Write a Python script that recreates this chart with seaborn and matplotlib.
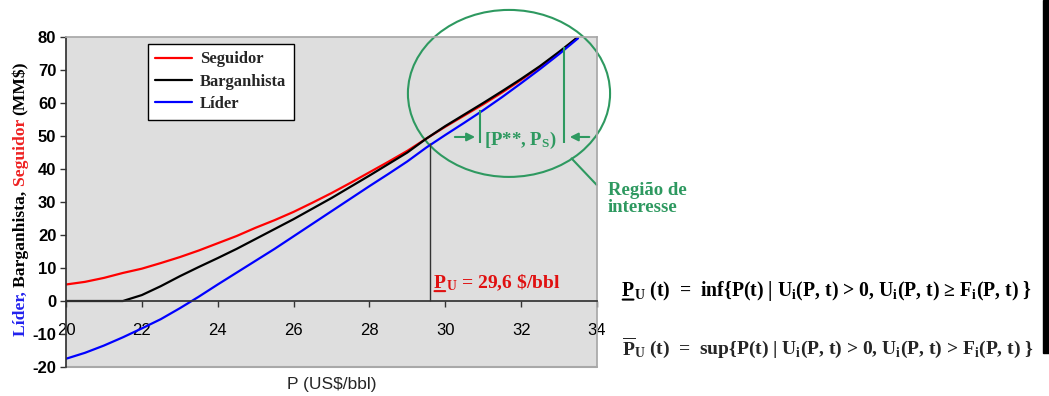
import numpy as np
import pandas as pd
import matplotlib
matplotlib.use("Agg")
import matplotlib.pyplot as plt
import seaborn as sns
from matplotlib.patches import Ellipse, Rectangle

# ==================================================
# DATA
# ==================================================
preco = [20, 20.5, 21, 21.5, 22, 22.5, 23, 23.5, 24, 24.5, 25, 25.5, 26, 26.5,
         27, 27.5, 28, 28.5, 29, 29.5, 30, 30.5, 31, 31.5, 32, 32.5, 33, 33.5]

seguidor = [5.0, 5.8, 7.0, 8.5, 9.8, 11.5, 13.3, 15.3, 17.5, 19.7, 22.2, 24.5,
            27.0, 29.8, 32.7, 35.8, 39.0, 42.2, 45.5, 49.2, 52.8, 56.2, 59.6,
            63.2, 67.0, 71.0, 75.2, 80.0]

barganhista = [0.0, 0.0, 0.0, 0.0, 1.8, 4.5, 7.5, 10.3, 13.0, 15.8, 18.8, 21.8,
               24.8, 28.0, 31.2, 34.6, 38.0, 41.5, 45.0, 49.2, 53.0, 56.5, 60.0,
               63.6, 67.3, 71.2, 75.5, 80.0]

lider = [-17.5, -15.7, -13.5, -11.0, -8.3, -5.5, -2.2, 1.3, 5.0, 8.6, 12.2, 15.8,
         19.6, 23.4, 27.2, 31.0, 34.8, 38.5, 42.3, 46.5, 50.3, 54.0, 57.8, 61.8,
         66.0, 70.3, 74.8, 79.6]

series_names = ["Seguidor", "Barganhista", "Líder"]
series_colors = ["#ff0000", "#000000", "#0000ff"]

p_u = 29.6
x_ticks = [20, 22, 24, 26, 28, 30, 32, 34]
y_ticks = [-20, -10, 0, 10, 20, 30, 40, 50, 60, 70, 80]

green = "#2e9960"

df = pd.DataFrame({
    "P": preco * 3,
    "valor": seguidor + barganhista + lider,
    "serie": [n for n in series_names for _ in preco],
})

# ==================================================
# STYLING
# ==================================================
sns.set_theme(style="white")
plt.rcParams["font.family"] = ["Liberation Sans", "DejaVu Sans"]
plt.rcParams["mathtext.fontset"] = "custom"
plt.rcParams["mathtext.rm"] = "Liberation Serif:bold"
plt.rcParams["mathtext.it"] = "Liberation Serif:bold"
plt.rcParams["mathtext.bf"] = "Liberation Serif:bold"

serif = ["Liberation Serif", "DejaVu Serif"]
bold_serif = dict(family=serif, fontweight="bold")

fig = plt.figure(figsize=(10.49, 3.96), dpi=100)
ax = fig.add_axes([0.0629, 0.0732, 0.5062, 0.8334])
ax.set_facecolor("#dedede")

sns.lineplot(
    data=df, x="P", y="valor", hue="serie",
    hue_order=series_names, palette=series_colors,
    linewidth=1.6, ax=ax, legend=True
)

ax.set_xlim(20, 34)
ax.set_ylim(-20, 80)
ax.set_xticks(x_ticks, labels=[str(t) for t in x_ticks], fontweight="bold")
ax.set_yticks(y_ticks, labels=[str(t) for t in y_ticks], fontweight="bold")
ax.tick_params(axis="both", labelsize=12, length=4, width=1, color="#333333",
               labelcolor="black", direction="out", left=True, bottom=True)
ax.tick_params(axis="x", pad=12)
ax.tick_params(axis="y", pad=3)

for s in ["top", "right"]:
    ax.spines[s].set_color("#a8a8a8")
ax.spines["left"].set_color("#333333")
ax.spines["bottom"].set_position(("data", 0))
ax.spines["bottom"].set_color("#333333")
ax.axhline(-20, color="#a8a8a8", lw=1.5, clip_on=False)

ax.set_xlabel("P (US$/bbl)", fontsize=12.5)
ax.xaxis.set_label_coords(0.5, -0.03)
ax.set_ylabel("")

leg = ax.legend(
    loc="upper left", bbox_to_anchor=(0.154, 0.979), borderaxespad=0,
    frameon=True, fancybox=False, edgecolor="black", framealpha=1,
    handlelength=2.2, borderpad=0.45, labelspacing=0.38, handletextpad=0.5,
    prop={"family": serif, "weight": "bold", "size": 12}
)
leg.get_frame().set_linewidth(1.0)


def underlined_p(x, y, rest, coords, color, size, under):
    # "P" with a line under it, then the rest of the text on the same baseline
    p = ax.annotate("P", xy=(x, y), xycoords=coords, va="baseline", ha="left",
                    color=color, fontsize=size, annotation_clip=False, **bold_serif)
    ax.annotate(rest, xy=(1, y), xycoords=(p, coords), va="baseline", ha="left",
                color=color, fontsize=size, annotation_clip=False, **bold_serif)
    ax.annotate("", xy=(0.05, y - under), xycoords=(p, coords),
                xytext=(0.95, y - under), textcoords=(p, coords), annotation_clip=False,
                arrowprops=dict(arrowstyle="-", color=color, lw=1.5, shrinkA=0, shrinkB=0))


# P_U vertical marker
ax.vlines(p_u, 0, 48, color="#333333", lw=1)
underlined_p(29.7, 4.0, r"$_{U}$ = 29,6 \$/bbl", "data", "#e01010", 14, 1.0)

# Region of interest
ax.add_patch(Ellipse((31.68, 62.9), 5.33, 50.6, fill=False, edgecolor=green,
                     lw=1.5, clip_on=False))
ax.vlines(30.91, 47.9, 57.9, color=green, lw=1.5)
ax.vlines(33.13, 47.9, 77.0, color=green, lw=1.5)
ax.annotate("", xy=(30.86, 49.7), xytext=(30.18, 49.7),
            arrowprops=dict(arrowstyle="-|>", color=green, lw=1.5, mutation_scale=12))
ax.annotate("", xy=(33.21, 49.7), xytext=(33.87, 49.7), annotation_clip=False,
            arrowprops=dict(arrowstyle="-|>", color=green, lw=1.5, mutation_scale=12))
ax.text(31.02, 48.8, r"[P**, P$_S$)", color=green, fontsize=13.5,
        va="center", **bold_serif)
ax.plot([33.33, 33.99], [43.2, 35.2], color=green, lw=1.5, clip_on=False)
ax.text(34.29, 36.2, "Região de\ninteresse", color=green, fontsize=13.5,
        va="top", ha="left", linespacing=1.0, clip_on=False, **bold_serif)

# multi-coloured y label
pieces = [("Líder, ", "#2222ee"), ("Barganhista, ", "black"),
          ("Seguidor ", "#ee2222"), ("(MM$)", "black")]
prev = fig.text(0.02, 0.152, pieces[0][0], color=pieces[0][1], rotation=90,
                ha="center", va="bottom", fontsize=12.6, **bold_serif)
for txt, col in pieces[1:]:
    prev = ax.annotate(txt, xy=(0.5, 1), xycoords=prev, xytext=(0, 0),
                       textcoords="offset points", rotation=90, ha="center",
                       va="bottom", color=col, fontsize=12.6, annotation_clip=False,
                       **bold_serif)

# formulas on the right
underlined_p(0.593, 0.2525,
             r"$_{U}$ (t)  =  inf{P(t) | U$_i$(P, t) > 0, U$_i$(P, t) ≥ F$_i$(P, t) }",
             "figure fraction", "black", 14.2, 0.009)
ax.annotate(r"$\overline{P}_{U}$ (t)  =  sup{P(t) | U$_i$(P, t) > 0, U$_i$(P, t) > F$_i$(P, t) }",
            xy=(0.593, 0.106), xycoords="figure fraction", va="baseline", ha="left",
            fontsize=14.0, annotation_clip=False, **bold_serif)

fig.add_artist(Rectangle((1043 / 1049, 1 - 353 / 396), 6 / 1049, 353 / 396,
                         transform=fig.transFigure, color="black"))

fig.savefig("out.png", dpi=100)
